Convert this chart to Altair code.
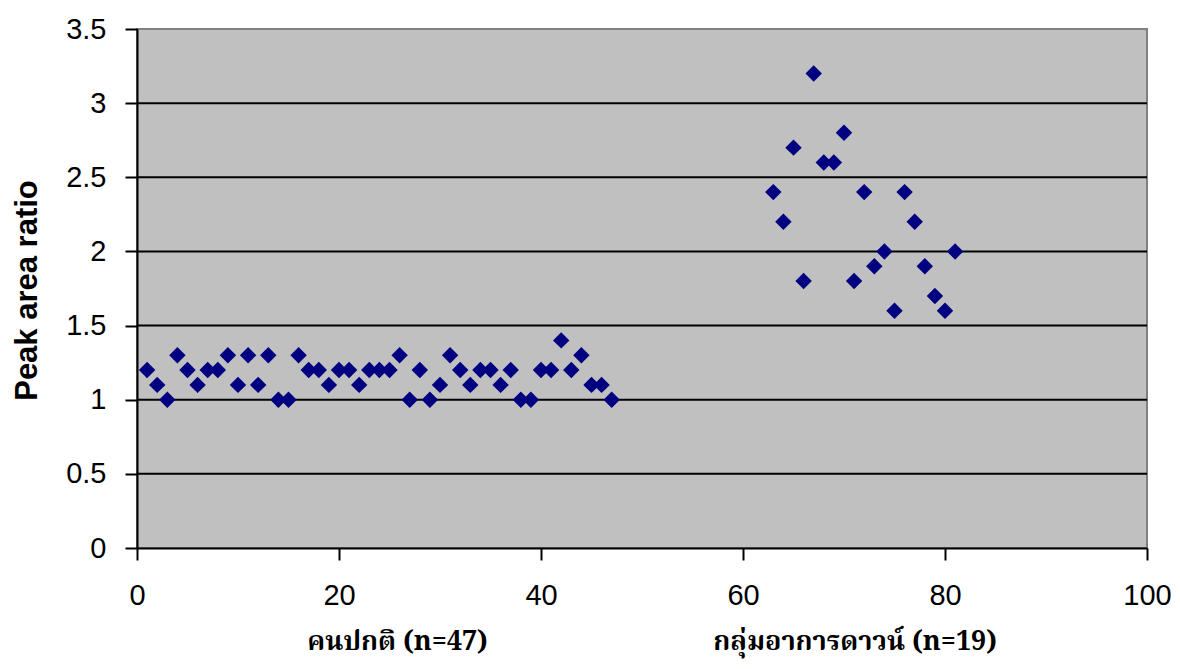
import altair as alt
import pandas as pd

# Normal group (n=47), x = 1..47
normal_x = list(range(1, 48))
normal_y = [1.2, 1.1, 1.0, 1.3, 1.2, 1.1, 1.2, 1.2, 1.3, 1.1,
            1.3, 1.1, 1.3, 1.0, 1.0, 1.3, 1.2, 1.2, 1.1, 1.2,
            1.2, 1.1, 1.2, 1.2, 1.2, 1.3, 1.0, 1.2, 1.0, 1.1,
            1.3, 1.2, 1.1, 1.2, 1.2, 1.1, 1.2, 1.0, 1.0, 1.2,
            1.2, 1.4, 1.2, 1.3, 1.1, 1.1, 1.0]

# Down syndrome group (n=19), x = 63..81
down_x = list(range(63, 82))
down_y = [2.4, 2.2, 2.7, 1.8, 3.2, 2.6, 2.6, 2.8, 1.8, 2.4,
          1.9, 2.0, 1.6, 2.4, 2.2, 1.9, 1.7, 1.6, 2.0]

x_ticks = [0, 20, 40, 60, 80, 100]
y_ticks = [0, 0.5, 1, 1.5, 2, 2.5, 3, 3.5]
grid_values = [0.5, 1, 1.5, 2, 2.5, 3]

group_labels = ["คนปกติ (n=47)", "กลุ่มอาการดาวน์ (n=19)"]
group_label_x = [25.8, 71.1]

points = pd.DataFrame({"x": normal_x + down_x, "y": normal_y + down_y})
grid = pd.DataFrame({"y": grid_values})
labels = pd.DataFrame({"label": group_labels, "x": group_label_x})

tick_font = "Liberation Sans, Arial, sans-serif"

x_scale = alt.Scale(domain=[0, 100], nice=False, zero=False)
y_scale = alt.Scale(domain=[0, 3.5], nice=False)

x_axis = alt.Axis(values=x_ticks, grid=False, title=None, labelFont=tick_font,
                  labelFontSize=29, labelColor="black", tickColor="black",
                  tickSize=12, tickWidth=2, domainColor="black", domainWidth=2,
                  labelPadding=21, format="d", labelFlush=False)
y_axis = alt.Axis(values=y_ticks, grid=False, title="Peak area ratio",
                  labelFont=tick_font, labelFontSize=29, labelColor="black",
                  tickColor="black", tickSize=12, tickWidth=2,
                  domainColor="black", domainWidth=2, labelPadding=19,
                  format=".2~r", titleFont=tick_font, titleFontSize=31,
                  titleFontWeight="bold", titleColor="black",
                  titleAngle=270, titleX=-110, titleY=261,
                  titleAlign="center", titleBaseline="middle", labelFlush=False)

gridlines = alt.Chart(grid).mark_rule(color="black", strokeWidth=2).encode(
    y=alt.Y("y:Q", scale=y_scale, axis=y_axis),
)

scatter = alt.Chart(points).mark_point(
    shape="diamond", filled=True, color="#000080", size=270, opacity=1
).encode(
    x=alt.X("x:Q", scale=x_scale, axis=x_axis),
    y=alt.Y("y:Q", scale=y_scale),
)

group_text = alt.Chart(labels).mark_text(
    font="Noto Serif Thai, Noto Sans Thai, DejaVu Serif, serif",
    fontSize=27, fontWeight="bold", color="black", baseline="middle",
    align="center"
).encode(
    x=alt.X("x:Q", scale=x_scale),
    y=alt.value(613),
    text="label:N",
)

chart = alt.layer(gridlines, scatter, group_text).properties(
    width=1010, height=519,
    autosize=alt.AutoSizeParams(type="none"),
    padding={"left": 137, "top": 29, "right": 33, "bottom": 121},
    background="white",
).configure_view(
    fill="#C0C0C0", stroke="#808080", strokeWidth=2
)

chart.save("out.html", embed_options={"renderer": "svg", "actions": False})
